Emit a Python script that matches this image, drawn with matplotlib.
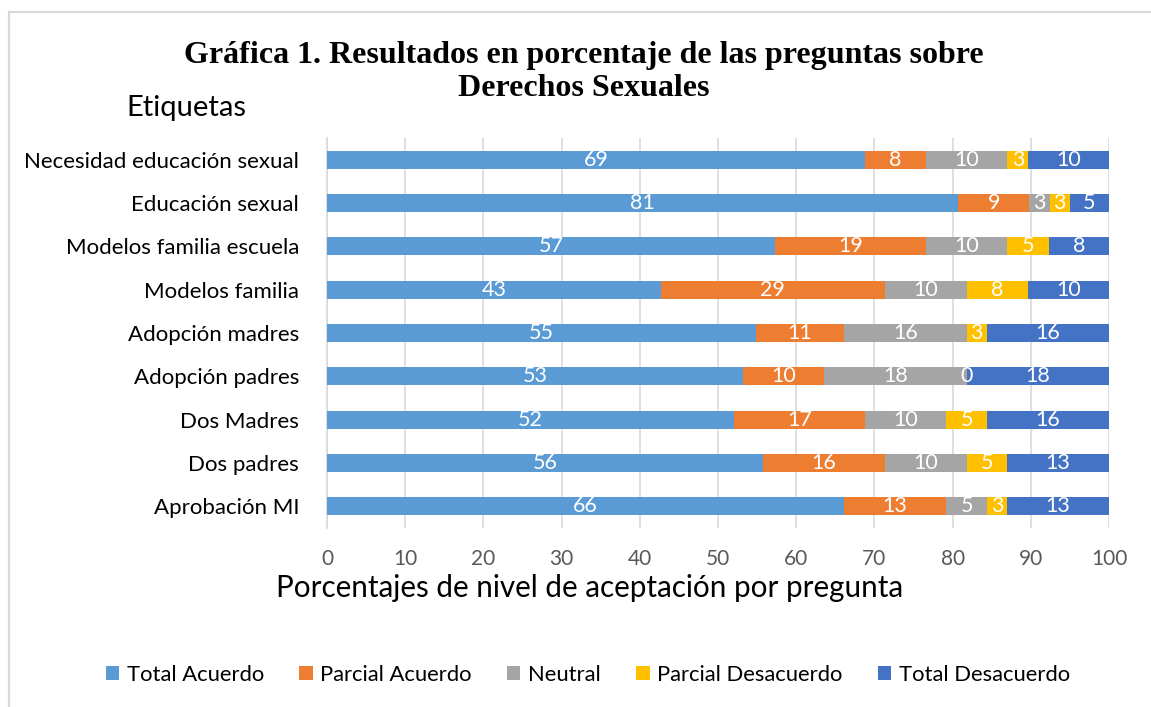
import matplotlib
matplotlib.use("Agg")
import matplotlib.pyplot as plt
from matplotlib.patches import Rectangle, Patch
import numpy as np

categories = ["Necesidad educación sexual", "Educación sexual", "Modelos familia escuela",
              "Modelos familia", "Adopción madres", "Adopción padres", "Dos Madres",
              "Dos padres", "Aprobación MI"]
series_names = ["Total Acuerdo", "Parcial Acuerdo", "Neutral", "Parcial Desacuerdo", "Total Desacuerdo"]
total_acuerdo = [68.8, 80.7, 57.3, 42.7, 54.8, 53.2, 52.0, 55.7, 66.1]
parcial_acuerdo = [7.8, 9.1, 19.3, 28.6, 11.3, 10.4, 16.8, 15.6, 13.1]
neutral = [10.4, 2.6, 10.4, 10.5, 15.7, 18.2, 10.4, 10.5, 5.2]
parcial_desacuerdo = [2.7, 2.6, 5.3, 7.9, 2.6, 0.0, 5.2, 5.2, 2.6]
total_desacuerdo = [10.3, 5.0, 7.7, 10.3, 15.6, 18.2, 15.6, 13.0, 13.0]
x_ticks = [0, 10, 20, 30, 40, 50, 60, 70, 80, 90, 100]

colors = ["#5B9BD5", "#ED7D31", "#A5A5A5", "#FFC000", "#4472C4"]
series = [total_acuerdo, parcial_acuerdo, neutral, parcial_desacuerdo, total_desacuerdo]

SANS = ["Lato", "DejaVu Sans"]
W, H = 1151, 707
fig = plt.figure(figsize=(W / 100, H / 100), dpi=100)

def fx(px):
    return px / W

def fy(py):
    return 1 - py / H

# outer frame
fig.patches.append(Rectangle((fx(9), fy(760)), fx(1200), fy(12) - fy(760), transform=fig.transFigure,
                             fill=False, edgecolor="#D9D9D9", linewidth=1.6, clip_on=False))

ax = fig.add_axes([fx(327), fy(528), fx(1109) - fx(327), fy(138) - fy(528)])
y = np.arange(len(categories))
left = np.zeros(len(categories))
for name, vals, col in zip(series_names, series, colors):
    vals = np.array(vals)
    ax.barh(y, vals, left=left, height=0.41, color=col, label=name, zorder=3)
    for yi, l, v in zip(y, left, vals):
        ax.text(l + v / 2, yi, f"{v:.0f}", ha="center", va="center", color="white",
                fontsize=15.5, family=SANS, zorder=4)
    left += vals

ax.set_xlim(0, 100)
ax.set_ylim(len(categories) - 0.5, -0.5)
ax.set_xticks(x_ticks)
ax.set_yticks(y)
ax.set_yticklabels(categories, fontsize=16, family=SANS, color="#000000")
for lab in ax.get_xticklabels():
    lab.set_fontfamily(SANS)
ax.tick_params(axis="x", labelsize=15, colors="#595959", length=0, pad=15)
ax.tick_params(axis="y", length=0, pad=20)
ax.grid(axis="x", color="#D9D9D9", linewidth=1.2, zorder=0)
for s in ["top", "right", "bottom"]:
    ax.spines[s].set_visible(False)
ax.spines["left"].set_color("#D9D9D9")
ax.spines["left"].set_linewidth(1.2)

fig.text(fx(589.5), fy(588), "Porcentajes de nivel de aceptación por pregunta", ha="center", va="center",
         fontsize=21.3, family=SANS, color="#000000")

fig.text(fx(583.5), fy(56), "Gráfica 1. Resultados en porcentaje de las preguntas sobre", ha="center",
         va="center", fontsize=23, family="Liberation Serif", weight="bold")
fig.text(fx(583.5), fy(89), "Derechos Sexuales", ha="center", va="center", fontsize=23,
         family="Liberation Serif", weight="bold")
fig.text(fx(126), fy(108), "Etiquetas", ha="left", va="center", fontsize=21, family=SANS)

handles = [Patch(facecolor=c, label=n) for n, c in zip(series_names, colors)]
fig.legend(handles=handles, loc="center", bbox_to_anchor=(fx(588), fy(675)), ncol=5,
           frameon=False, handlelength=0.6, handleheight=0.6, handletextpad=0.35,
           columnspacing=1.62, prop={"family": SANS, "size": 15.8})

fig.savefig("out.png", dpi=100)
